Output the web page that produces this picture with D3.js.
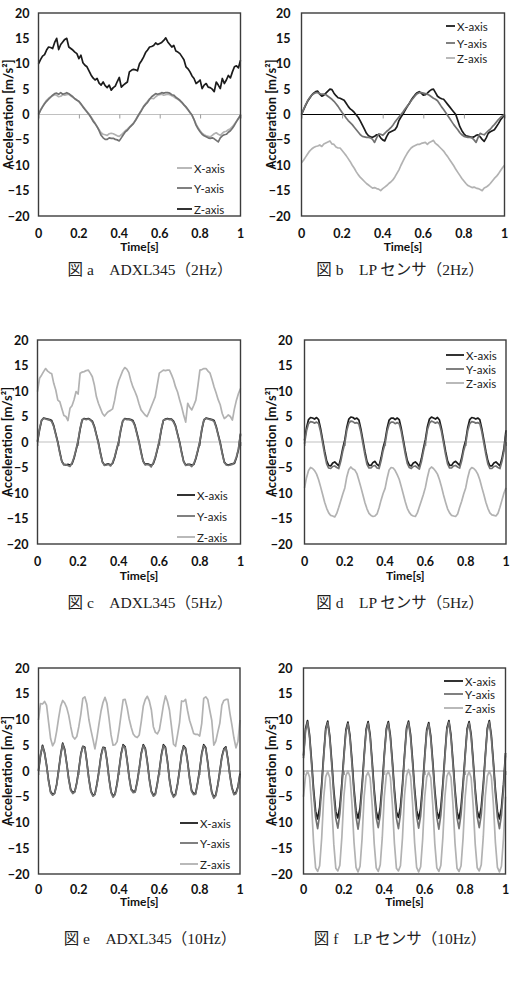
<!DOCTYPE html>
<html><head><meta charset="utf-8">
<script src="https://cdn.jsdelivr.net/npm/d3@7/dist/d3.min.js"></script>
<style>body{margin:0;background:#fff}svg{display:block}</style>
</head><body>
<svg id="chart" width="513" height="988"></svg>
<script>
// ---------- DATA ----------
const time = [
0,0.01,0.02,0.03,0.04,0.05,0.06,0.07,0.08,0.09,
0.1,0.11,0.12,0.13,0.14,0.15,0.16,0.17,0.18,0.19,
0.2,0.21,0.22,0.23,0.24,0.25,0.26,0.27,0.28,0.29,
0.3,0.31,0.32,0.33,0.34,0.35,0.36,0.37,0.38,0.39,
0.4,0.41,0.42,0.43,0.44,0.45,0.46,0.47,0.48,0.49,
0.5,0.51,0.52,0.53,0.54,0.55,0.56,0.57,0.58,0.59,
0.6,0.61,0.62,0.63,0.64,0.65,0.66,0.67,0.68,0.69,
0.7,0.71,0.72,0.73,0.74,0.75,0.76,0.77,0.78,0.79,
0.8,0.81,0.82,0.83,0.84,0.85,0.86,0.87,0.88,0.89,
0.9,0.91,0.92,0.93,0.94,0.95,0.96,0.97,0.98,0.99,
1];
const yTicks = [-20,-15,-10,-5,0,5,10,15,20];
const xTicks = [0,0.2,0.4,0.6,0.8,1];
const xTickLabels = ["0","0.2","0.4","0.6","0.8","1"];
const seriesNames = ["X-axis","Y-axis","Z-axis"];
const xTitle = "Time[s]";
const yTitle = "Acceleration [m/s²]";
const captions = ["図 a　ADXL345（2Hz）","図 b　LP センサ（2Hz）","図 c　ADXL345（5Hz）","図 d　LP センサ（5Hz）","図 e　ADXL345（10Hz）","図 f　LP センサ（10Hz）"];

// (a) ADXL345 2Hz
const aX = [
0.0,0.9,1.6,2.2,2.8,3.2,3.5,3.7,3.9,3.8,
3.5,3.6,3.9,3.8,3.9,4.0,3.7,3.4,3.1,2.9,
2.5,2.0,1.6,1.1,0.6,0.1,-0.5,-1.1,-1.7,-2.4,
-3.0,-3.6,-3.9,-4.0,-4.1,-3.8,-3.7,-3.8,-4.0,-4.2,
-4.3,-4.0,-3.6,-3.2,-2.9,-2.5,-2.1,-1.7,-1.1,-0.4,
0.2,0.9,1.6,2.1,2.6,3.1,3.2,3.1,3.5,3.8,
3.9,4.0,3.8,3.9,4.0,3.9,3.7,3.5,3.2,3.0,
2.7,2.3,1.9,1.4,0.9,0.4,-0.2,-1.0,-1.9,-2.6,
-3.2,-3.7,-4.0,-4.2,-4.3,-4.4,-4.1,-3.8,-3.6,-3.9,
-4.1,-3.7,-3.4,-3.3,-3.0,-2.8,-2.4,-1.9,-1.3,-0.7,
-0.2];
const aY = [
0.0,0.8,1.5,2.1,2.6,3.0,3.4,3.8,4.1,4.2,
4.0,4.3,4.0,4.1,4.3,4.1,3.8,3.5,3.1,2.8,
2.6,2.1,1.5,1.0,0.5,0.0,-0.6,-1.3,-1.8,-2.4,
-3.2,-4.1,-4.6,-4.9,-4.9,-4.6,-4.7,-4.7,-4.9,-5.0,
-5.2,-4.6,-4.0,-3.4,-3.1,-2.6,-2.2,-1.8,-1.2,-0.5,
0.2,0.8,1.5,2.0,2.4,3.0,3.5,3.8,4.1,4.0,
4.1,4.3,4.2,4.3,4.3,4.2,3.9,3.8,3.4,3.1,
2.8,2.4,1.9,1.5,1.0,0.4,-0.1,-1.0,-2.1,-2.8,
-3.4,-3.9,-4.2,-4.4,-4.6,-4.7,-4.6,-4.8,-5.1,-5.4,
-4.6,-4.2,-4.0,-3.9,-3.5,-3.2,-2.7,-2.1,-1.4,-0.8,
-0.1];
const aZ = [
10.0,10.8,11.5,11.8,12.7,13.3,13.2,13.0,14.2,15.0,
12.8,13.8,14.3,14.8,15.0,13.3,13.0,12.7,12.3,12.0,
11.0,11.7,10.2,9.7,9.4,8.6,7.8,7.2,6.8,7.1,
6.2,5.8,6.4,5.7,5.3,5.8,4.8,5.3,5.6,6.5,
7.3,5.4,5.8,6.1,6.4,8.4,8.7,8.9,8.8,8.6,
10.0,10.6,11.3,12.2,12.7,13.3,13.4,13.6,14.1,13.8,
14.0,14.2,14.6,15.1,14.3,13.8,13.3,13.6,12.5,12.3,
12.0,11.4,10.8,9.4,9.0,8.4,7.6,7.1,6.1,6.4,
6.8,5.1,5.8,6.1,5.4,5.3,5.0,4.5,6.4,5.8,
5.1,7.1,6.1,6.8,7.7,7.2,8.4,9.4,9.6,9.2,
10.7];

// (b) LP sensor 2Hz
const bX = [
0.0,0.9,1.8,2.6,3.2,3.8,4.2,4.5,4.6,4.0,
3.6,3.8,4.2,4.6,5.0,4.9,4.2,3.7,3.3,3.2,
3.0,2.8,2.2,1.6,1.1,0.8,0.4,-0.1,-0.6,-1.3,
-2.1,-2.9,-3.7,-4.2,-4.4,-4.5,-4.3,-4.0,-4.0,-4.6,
-5.0,-5.2,-4.3,-3.6,-3.4,-3.2,-3.0,-2.4,-1.2,-0.5,
0.1,0.8,1.5,2.1,2.8,3.4,3.9,4.3,4.5,4.2,
3.8,3.9,4.2,4.6,4.9,5.0,4.3,3.6,3.3,3.1,
3.0,2.5,2.0,1.5,1.0,0.5,0.0,-1.2,-2.4,-3.2,
-3.8,-4.2,-4.3,-4.4,-4.5,-4.4,-4.1,-4.0,-4.4,-4.9,
-5.3,-4.6,-3.7,-3.4,-3.2,-3.0,-2.4,-1.8,-1.1,-0.6,
0.0];
const bY = [
0.0,1.0,1.9,2.7,3.3,3.8,4.1,4.3,4.3,4.1,
4.0,4.0,3.9,3.6,3.3,3.0,2.6,2.1,1.6,1.0,
0.4,-0.1,-0.7,-1.2,-1.6,-2.0,-2.5,-3.0,-3.5,-4.0,
-4.3,-4.4,-4.5,-4.5,-4.6,-4.9,-5.5,-4.6,-3.8,-3.9,
-4.1,-3.7,-3.3,-3.0,-2.6,-2.1,-1.5,-1.0,-0.5,0.0,
0.5,1.1,1.6,2.1,2.7,3.2,3.7,4.1,4.3,4.3,
4.2,4.1,4.0,3.8,3.5,3.2,3.0,2.7,2.1,1.5,
1.0,0.4,-0.2,-0.8,-1.4,-2.0,-2.5,-3.0,-3.6,-4.0,
-4.3,-4.4,-4.5,-4.5,-4.6,-5.0,-5.5,-4.5,-3.7,-3.9,
-4.0,-3.6,-3.2,-2.9,-2.4,-2.0,-1.5,-1.0,-0.6,-0.3,
0.0];
const bZ = [
-9.5,-9.0,-8.4,-7.8,-7.2,-6.8,-6.5,-6.3,-6.2,-6.0,
-6.3,-5.8,-5.6,-5.4,-5.2,-5.8,-5.9,-6.4,-6.6,-6.6,
-7.1,-7.6,-8.1,-8.7,-9.3,-10.0,-10.6,-11.3,-11.9,-12.4,
-12.8,-13.2,-13.6,-13.9,-14.2,-14.5,-14.4,-14.6,-14.7,-15.0,
-14.6,-14.3,-14.0,-13.6,-13.3,-12.9,-12.3,-11.6,-10.9,-10.0,
-9.2,-8.4,-7.7,-7.1,-6.6,-6.3,-6.1,-5.9,-5.9,-5.7,
-5.6,-5.5,-5.9,-5.5,-5.3,-5.1,-5.7,-6.0,-6.4,-6.8,
-7.2,-7.8,-8.3,-8.9,-9.5,-10.1,-10.8,-11.4,-12.0,-12.6,
-13.1,-13.6,-14.0,-14.2,-14.4,-14.3,-14.5,-14.6,-14.8,-15.0,
-14.5,-14.3,-14.0,-13.6,-13.1,-12.6,-12.2,-11.7,-11.1,-10.5,
-10.0];

// (c) ADXL345 5Hz
const cX = [
0.0,2.4,4.2,4.7,4.6,4.5,4.4,4.2,3.2,1.6,0.0,-2.0,-3.8,-4.4,-4.5,-4.4,-4.5,-4.3,-3.2,-1.6,
0.1,2.5,4.3,4.6,4.5,4.6,4.4,4.1,3.1,1.5,-0.1,-2.1,-3.9,-4.5,-4.4,-4.3,-4.5,-4.2,-3.1,-1.5,
0.0,2.3,4.1,4.6,4.5,4.5,4.4,4.2,3.3,1.7,0.1,-1.9,-3.7,-4.4,-4.3,-4.4,-4.6,-4.3,-3.2,-1.6,
0.1,2.4,4.2,4.5,4.6,4.5,4.5,4.1,3.2,1.6,0.0,-2.0,-3.8,-4.5,-4.4,-4.4,-4.5,-4.4,-3.3,-1.7,
0.0,2.5,4.3,4.7,4.6,4.5,4.4,4.2,3.1,1.5,-0.1,-2.1,-3.9,-4.4,-4.5,-4.4,-4.3,-4.2,-3.1,-1.5,
1.5];
const cY = [
0.2,2.6,4.3,4.6,4.5,4.4,4.3,4.0,3.0,1.4,-0.2,-2.2,-3.9,-4.5,-4.4,-4.6,-4.8,-4.1,-3.0,-1.4,
0.3,2.7,4.4,4.5,4.4,4.5,4.3,3.9,2.9,1.3,-0.3,-2.3,-4.0,-4.6,-4.5,-4.4,-4.7,-4.0,-2.9,-1.3,
0.2,2.5,4.2,4.5,4.4,4.4,4.3,4.0,3.1,1.5,-0.1,-2.1,-3.8,-4.5,-4.4,-4.5,-4.9,-4.1,-3.0,-1.4,
0.3,2.6,4.3,4.4,4.5,4.4,4.4,3.9,3.0,1.4,-0.2,-2.2,-3.9,-4.6,-4.5,-4.5,-4.8,-4.2,-3.1,-1.5,
0.2,2.7,4.4,4.6,4.5,4.4,4.3,4.0,2.9,1.3,-0.3,-2.3,-4.0,-4.5,-4.6,-4.5,-4.4,-4.0,-2.9,-1.3,
1.7];
const cZ = [
9.9,12.5,13.1,13.8,14.4,13.9,13.6,13.4,11.5,10.2,
8.2,7.9,6.5,5.2,5.0,4.2,6.6,7.1,8.3,9.9,
9.4,13.5,13.7,13.8,14.0,14.1,13.5,12.8,11.2,8.9,
7.6,6.6,5.6,5.1,5.6,6.0,6.2,6.5,8.2,10.5,
12.0,13.0,14.0,14.6,14.3,13.6,12.0,10.8,9.9,8.9,
7.5,6.3,5.8,5.3,5.0,5.9,6.9,7.9,8.9,11.2,
13.5,13.8,14.1,14.0,14.1,14.1,13.2,12.2,10.8,9.8,
8.3,6.9,5.3,3.9,7.6,6.8,6.3,7.2,8.2,11.0,
14.1,14.2,14.4,14.4,13.9,13.5,12.2,10.8,9.6,8.3,
7.3,5.6,4.6,4.9,5.3,5.0,4.3,6.5,8.2,9.5,
10.5];

// (d) LP sensor 5Hz
const dX = [
0.3,2.8,4.4,4.8,4.7,4.5,4.8,4.4,2.6,0.4,-1.8,-3.7,-4.6,-4.7,-4.1,-3.9,-4.3,-4.7,-3.2,-1.2,
0.4,2.9,4.5,4.9,4.8,4.5,4.7,4.3,2.5,0.3,-1.9,-3.8,-4.6,-4.6,-4.0,-3.8,-4.4,-4.7,-3.1,-1.1,
0.3,2.7,4.3,4.7,4.7,4.4,4.7,4.4,2.7,0.5,-1.7,-3.6,-4.5,-4.7,-4.1,-3.9,-4.3,-4.8,-3.3,-1.3,
0.5,3.0,4.5,4.9,4.7,4.5,4.8,4.3,2.6,0.4,-1.8,-3.7,-4.6,-4.6,-4.0,-3.8,-4.2,-4.6,-3.1,-1.1,
0.3,2.8,4.4,4.8,4.7,4.5,4.7,4.4,2.6,0.4,-1.8,-3.7,-4.7,-4.7,-4.1,-3.9,-4.3,-4.7,-3.2,-1.2,
2.3];
const dY = [
-0.3,2.2,3.6,4.0,3.9,3.7,3.9,3.6,2.0,-0.2,-2.4,-4.3,-5.1,-5.2,-4.8,-4.7,-5.0,-5.2,-3.8,-1.8,
-0.2,2.3,3.7,4.1,4.0,3.7,3.8,3.5,1.9,-0.3,-2.5,-4.4,-5.1,-5.1,-4.7,-4.6,-5.1,-5.2,-3.7,-1.7,
-0.3,2.1,3.5,3.9,3.9,3.6,3.8,3.6,2.1,-0.1,-2.3,-4.2,-5.0,-5.2,-4.8,-4.7,-5.0,-5.3,-3.9,-1.9,
-0.1,2.4,3.7,4.1,3.9,3.7,3.9,3.5,2.0,-0.2,-2.4,-4.3,-5.1,-5.1,-4.7,-4.6,-4.9,-5.1,-3.7,-1.7,
-0.3,2.2,3.6,4.0,3.9,3.7,3.8,3.6,2.0,-0.2,-2.4,-4.3,-5.2,-5.2,-4.8,-4.7,-5.0,-5.2,-3.8,-1.8,
1.6];
const dZ = [
-9.0,-7.0,-5.6,-5.0,-5.2,-5.6,-6.3,-7.4,-8.8,-10.3,-11.8,-13.0,-13.9,-14.4,-14.5,-14.7,-14.0,-12.8,-11.5,-10.2,
-9.0,-6.8,-5.4,-4.9,-5.3,-5.5,-6.2,-7.5,-8.9,-10.4,-11.9,-13.1,-14.0,-14.4,-14.6,-14.5,-14.1,-12.9,-11.4,-10.1,
-9.1,-7.1,-5.5,-5.0,-5.1,-5.6,-6.4,-7.3,-8.7,-10.2,-11.7,-13.0,-13.8,-14.3,-14.5,-14.6,-13.9,-12.7,-11.5,-10.3,
-8.9,-6.9,-5.3,-4.9,-5.2,-5.7,-6.3,-7.4,-8.8,-10.4,-11.8,-13.1,-13.9,-14.4,-14.5,-14.6,-14.1,-12.8,-11.6,-10.2,
-9.0,-7.0,-5.5,-5.0,-5.2,-5.6,-6.3,-7.4,-8.9,-10.3,-11.8,-13.0,-13.9,-14.3,-14.4,-14.5,-14.0,-12.8,-11.4,-10.0,
-9.0];

// (e) ADXL345 10Hz
const eX = [
0.0,3.0,5.0,3.6,1.2,-1.8,-4.0,-4.5,-4.3,-2.6,
0.2,3.2,5.4,4.2,1.5,-1.5,-3.6,-4.2,-4.0,-2.2,
0.3,3.3,4.8,4.6,1.8,-1.5,-3.9,-4.7,-4.5,-2.5,
0.0,3.0,4.6,4.5,2.0,-1.4,-4.0,-4.9,-4.4,-2.4,
0.4,3.4,5.1,4.7,2.0,-1.2,-3.5,-4.0,-3.9,-2.0,
0.5,3.5,5.1,4.4,1.8,-1.5,-3.9,-4.7,-4.4,-2.3,
0.2,3.2,5.1,4.6,1.9,-1.6,-4.0,-4.9,-4.5,-2.5,
0.2,3.3,4.9,4.4,1.8,-1.4,-3.8,-4.4,-4.3,-2.2,
0.3,3.4,5.1,4.5,1.7,-1.7,-4.1,-5.1,-4.6,-2.6,
0.0,2.8,4.3,4.7,2.3,-0.8,-3.2,-4.4,-4.2,-3.0,
-0.5];
const eY = [
0.2,3.2,4.8,3.4,1.0,-2.0,-4.2,-4.7,-4.4,-2.8,
0.0,3.0,5.2,4.0,1.3,-1.7,-3.8,-4.4,-4.1,-2.4,
0.1,3.1,4.7,4.4,1.6,-1.7,-4.1,-4.9,-4.6,-2.7,
-0.2,2.8,4.5,4.3,1.8,-1.6,-4.2,-5.1,-4.6,-2.6,
0.2,3.2,4.9,4.5,1.8,-1.4,-3.7,-4.2,-4.1,-2.2,
0.3,3.3,4.9,4.2,1.6,-1.7,-4.1,-4.9,-4.6,-2.5,
0.0,3.0,4.9,4.4,1.7,-1.8,-4.2,-5.1,-4.7,-2.7,
0.0,3.1,4.7,4.2,1.6,-1.6,-4.0,-4.6,-4.5,-2.4,
0.1,3.2,4.9,4.3,1.5,-1.9,-4.3,-5.3,-4.8,-2.8,
-0.2,2.6,4.1,4.5,2.1,-1.0,-3.4,-4.6,-4.4,-3.2,
-0.7];
const eZ = [
9.9,13.1,13.0,13.5,12.8,9.5,6.3,4.9,5.6,7.7,
10.3,12.6,13.7,13.2,12.3,10.8,8.6,6.7,6.2,6.7,
8.6,11.0,14.1,14.4,13.0,10.0,8.0,6.2,4.3,6.5,
9.1,11.6,13.3,14.3,13.1,10.2,7.0,5.0,5.1,5.7,
8.1,11.0,13.8,13.9,12.3,10.1,8.5,7.2,6.7,6.5,
7.0,9.6,12.6,13.9,14.5,13.6,11.9,8.6,7.5,7.2,
8.0,10.3,12.8,14.6,13.5,11.8,8.6,5.2,4.8,7.0,
9.4,13.6,13.5,13.9,11.7,9.8,8.6,7.3,7.1,7.1,
6.8,9.2,14.1,14.4,13.9,11.8,9.8,5.0,5.8,7.6,
9.3,12.8,13.7,13.9,13.9,11.2,8.9,6.4,4.5,5.8,
9.9];

// (f) LP sensor 10Hz
const fX = [
3.0,8.2,9.8,7.0,2.0,-3.5,-7.8,-9.3,-7.0,-2.5,
3.2,8.3,9.7,6.8,1.8,-3.7,-7.9,-9.1,-6.8,-2.3,
3.1,8.0,9.5,6.9,2.1,-3.4,-7.7,-9.2,-7.1,-2.6,
3.0,8.1,9.6,7.0,1.9,-3.6,-7.8,-9.4,-7.0,-2.4,
3.3,8.2,9.6,6.9,2.0,-3.5,-7.9,-9.0,-6.9,-2.5,
3.1,8.3,9.7,7.1,2.2,-3.3,-7.6,-9.3,-7.2,-2.7,
2.9,8.0,9.4,6.8,1.9,-3.6,-7.8,-9.2,-7.0,-2.4,
3.2,8.4,9.8,7.0,2.0,-3.5,-7.9,-9.3,-6.9,-2.3,
3.1,8.2,9.6,7.1,2.1,-3.4,-7.7,-9.1,-7.0,-2.5,
3.0,8.3,9.8,6.9,1.9,-3.6,-7.8,-9.3,-7.1,-2.6,
3.5];
const fY = [
2.5,7.8,9.5,6.5,1.2,-4.5,-9.0,-11.2,-8.5,-3.5,
2.7,7.9,9.4,6.3,1.0,-4.7,-9.2,-11.1,-8.3,-3.3,
2.6,7.6,9.2,6.4,1.3,-4.4,-8.9,-11.3,-8.6,-3.6,
2.5,7.7,9.3,6.5,1.1,-4.6,-9.1,-11.0,-8.5,-3.4,
2.8,7.8,9.3,6.4,1.2,-4.5,-9.2,-11.2,-8.4,-3.5,
2.6,7.9,9.4,6.6,1.4,-4.3,-8.8,-11.1,-8.7,-3.7,
2.4,7.6,9.1,6.3,1.1,-4.6,-9.0,-11.3,-8.5,-3.4,
2.7,8.0,9.5,6.5,1.2,-4.5,-9.1,-11.2,-8.4,-3.3,
2.6,7.8,9.3,6.6,1.3,-4.4,-8.9,-11.0,-8.5,-3.5,
2.5,7.9,9.5,6.4,1.1,-4.6,-9.0,-11.2,-8.6,-3.6,
3.0];
const fZ = [
-5.0,-1.0,0.0,-1.2,-6.5,-14.0,-18.8,-19.5,-18.4,-13.0,
-5.2,-1.1,-0.1,-1.3,-6.7,-14.2,-18.9,-19.4,-18.3,-12.8,
-4.9,-0.9,0.0,-1.1,-6.4,-13.8,-18.7,-19.6,-18.5,-13.1,
-5.1,-1.0,-0.2,-1.4,-6.6,-14.1,-18.8,-19.5,-18.2,-12.9,
-5.0,-0.8,0.0,-1.2,-6.5,-14.0,-18.9,-19.4,-18.4,-13.0,
-4.8,-0.9,0.3,-1.0,-6.3,-13.9,-18.7,-19.6,-18.6,-13.2,
-5.1,-1.2,-0.2,-1.3,-6.6,-14.1,-18.8,-19.5,-18.3,-12.9,
-5.0,-1.0,-0.1,-1.2,-6.5,-14.0,-18.9,-19.5,-18.4,-13.0,
-5.2,-1.1,-0.1,-1.3,-6.7,-14.2,-18.8,-19.4,-18.2,-12.8,
-4.9,-1.0,0.0,-1.1,-6.4,-13.9,-18.7,-19.6,-18.5,-13.1,
-5.0];

// ---------- LAYOUT / STYLE ----------
const LIGHT = "#b2b2b2", MID = "#727272", DARK = "#1b1b1b";
const panels = [
 {series:[aX,aY,aZ], colors:[LIGHT,MID,DARK], box:[38.5,13,240.5,216], zero:"#c0c0c0", tickPad:9, yTitleX:8,
  legend:{x1:177,x2:192,tx:194,rows:[168,188,209]}, cap:captions[0], capX:150, capY:269, xLabY:233, xTitleY:246},
 {series:[bX,bY,bZ], colors:[DARK,MID,LIGHT], box:[301.5,13,504.5,216], zero:"#000000", tickPad:11, yTitleX:271,
  legend:{x1:446,x2:455,tx:457,rows:[26,43,58]}, cap:captions[1], capX:400, capY:269, xLabY:233, xTitleY:246},
 {series:[cX,cY,cZ], colors:[DARK,MID,LIGHT], box:[37.5,340,240.5,544], zero:"#c0c0c0", tickPad:9, yTitleX:7,
  legend:{x1:177,x2:195,tx:197,rows:[495,516,537]}, cap:captions[2], capX:150, capY:602, xLabY:561, xTitleY:575},
 {series:[dX,dY,dZ], colors:[DARK,MID,LIGHT], box:[304.5,340,506,544], zero:"#c0c0c0", tickPad:12, yTitleX:271,
  legend:{x1:446,x2:464,tx:466,rows:[355,369,383]}, cap:captions[3], capX:400, capY:602, xLabY:561, xTitleY:575},
 {series:[eX,eY,eZ], colors:[DARK,MID,LIGHT], box:[38.5,668,240,874], zero:"#8c8c8c", tickPad:9, yTitleX:7,
  legend:{x1:180,x2:198,tx:200,rows:[823,843,864]}, cap:captions[4], capX:150, capY:938, xLabY:889, xTitleY:901},
 {series:[fX,fY,fZ], colors:[DARK,MID,LIGHT], box:[303.5,668,505.5,874], zero:"#8c8c8c", tickPad:11, yTitleX:271,
  legend:{x1:444,x2:463,tx:465,rows:[681,694,708]}, cap:captions[5], capX:400, capY:938, xLabY:889, xTitleY:901}
];

const SANS = "Lato, 'Open Sans', 'DejaVu Sans', sans-serif";
const SERIF = "'Liberation Serif', 'Noto Sans CJK JP', serif";
const svg = d3.select("#chart");

panels.forEach(p => {
  const [L, T, R, B] = p.box;
  const x = d3.scaleLinear().domain([0, 1]).range([L, R]);
  const y = d3.scaleLinear().domain([-20, 20]).range([B, T]);
  const g = svg.append("g");

  // zero line (horizontal category axis crossing at 0)
  g.append("line").attr("x1", L).attr("x2", R).attr("y1", y(0)).attr("y2", y(0))
    .attr("stroke", p.zero).attr("stroke-width", 1.1);
  const zeroAxis = g.append("g").attr("transform", `translate(0,${y(0)})`)
    .call(d3.axisBottom(x).tickValues(xTicks).tickSize(4).tickFormat(""));
  zeroAxis.select(".domain").remove();
  zeroAxis.selectAll("line").attr("stroke", "#9a9a9a");

  // series lines
  p.series.forEach((vals, si) => {
    const line = d3.line().x((d, i) => x(time[i])).y(d => y(d));
    g.append("path").datum(vals).attr("d", line).attr("fill", "none")
      .attr("stroke", p.colors[si]).attr("stroke-width", 1.7)
      .attr("stroke-linejoin", "round");
  });

  // frame
  g.append("rect").attr("x", L).attr("y", T).attr("width", R - L).attr("height", B - T)
    .attr("fill", "none").attr("stroke", "#3c3c3c").attr("stroke-width", 1.4);

  // y axis labels
  const yAx = g.append("g").attr("transform", `translate(${L},0)`)
    .call(d3.axisLeft(y).tickValues(yTicks).tickSize(0).tickPadding(p.tickPad));
  yAx.select(".domain").remove();
  yAx.selectAll("text").attr("font-family", SANS).attr("font-weight", "bold")
    .attr("font-size", 12.5).attr("fill", "#111");

  // x axis labels
  g.selectAll(".xl").data(xTicks).enter().append("text")
    .attr("x", d => x(d)).attr("y", p.xLabY).attr("text-anchor", "middle")
    .attr("dominant-baseline", "central").attr("font-family", SANS).attr("font-weight", "bold")
    .attr("font-size", 12.5).attr("fill", "#111").text((d, i) => xTickLabels[i]);

  g.append("text").attr("x", (L + R) / 2).attr("y", p.xTitleY).attr("text-anchor", "middle")
    .attr("dominant-baseline", "central").attr("font-family", SANS).attr("font-weight", "bold")
    .attr("font-size", 12).attr("fill", "#111").text(xTitle);

  g.append("text").attr("transform", `translate(${p.yTitleX},${(T + B) / 2}) rotate(-90)`)
    .attr("text-anchor", "middle").attr("dominant-baseline", "central")
    .attr("font-family", SANS).attr("font-weight", "bold").attr("font-size", 13)
    .attr("fill", "#111").text(yTitle);

  // legend
  seriesNames.forEach((nm, si) => {
    const ry = p.legend.rows[si];
    g.append("line").attr("x1", p.legend.x1).attr("x2", p.legend.x2).attr("y1", ry).attr("y2", ry)
      .attr("stroke", p.colors[si]).attr("stroke-width", 1.8);
    g.append("text").attr("x", p.legend.tx).attr("y", ry).attr("dominant-baseline", "central")
      .attr("font-family", SANS).attr("font-size", 11.5).attr("fill", "#222").text(nm);
  });

  // caption
  g.append("text").attr("x", p.capX).attr("y", p.capY).attr("text-anchor", "middle")
    .attr("dominant-baseline", "central").attr("font-family", SERIF).attr("font-size", 15.5)
    .attr("fill", "#222").text(p.cap);
});
</script>
</body></html>
